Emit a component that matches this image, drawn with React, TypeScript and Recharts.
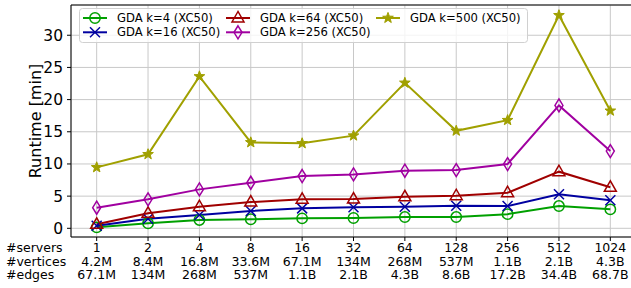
import React from 'react'
import { LineChart, Line, XAxis, YAxis, CartesianGrid, ReferenceLine } from 'recharts'

const FONT = '"DejaVu Sans", sans-serif'

// x-axis rows
const servers = ['1', '2', '4', '8', '16', '32', '64', '128', '256', '512', '1024']
const vertices = ['4.2M', '8.4M', '16.8M', '33.6M', '67.1M', '134M', '268M', '537M', '1.1B', '2.1B', '4.3B']
const edges = ['67.1M', '134M', '268M', '537M', '1.1B', '2.1B', '4.3B', '8.6B', '17.2B', '34.4B', '68.7B']
const rowNames = ['#servers', '#vertices', '#edges']

// runtimes [min]
const k4 = [0.15, 0.78, 1.3, 1.4, 1.55, 1.6, 1.75, 1.75, 2.2, 3.46, 2.95]
const k16 = [0.4, 1.5, 2.06, 2.7, 3.1, 3.26, 3.36, 3.5, 3.46, 5.28, 4.35]
const k64 = [0.62, 2.33, 3.36, 4.08, 4.5, 4.55, 4.9, 5.06, 5.53, 8.8, 6.37]
const k256 = [3.2, 4.5, 6.05, 7.08, 8.12, 8.38, 8.95, 9.05, 9.98, 19.1, 12.0]
const k500 = [9.47, 11.5, 23.6, 13.35, 13.2, 14.4, 22.6, 15.15, 16.8, 33.1, 18.26]

const yTicks = [0, 5, 10, 15, 20, 25, 30]

type Shape = 'circle' | 'x' | 'triangle' | 'thin_diamond' | 'star'

const series: { key: string; name: string; color: string; shape: Shape }[] = [
  { key: 'k4', name: 'GDA k=4 (XC50)', color: '#00a000', shape: 'circle' },
  { key: 'k16', name: 'GDA k=16 (XC50)', color: '#0000a0', shape: 'x' },
  { key: 'k64', name: 'GDA k=64 (XC50)', color: '#a00000', shape: 'triangle' },
  { key: 'k256', name: 'GDA k=256 (XC50)', color: '#a000a0', shape: 'thin_diamond' },
  { key: 'k500', name: 'GDA k=500 (XC50)', color: '#a0a000', shape: 'star' },
]

const data = servers.map((s, i) => ({
  i,
  k4: k4[i],
  k16: k16[i],
  k64: k64[i],
  k256: k256[i],
  k500: k500[i],
}))

function starPoints(cx: number, cy: number, ro: number, ri: number) {
  const pts: string[] = []
  for (let j = 0; j < 10; j++) {
    const r = j % 2 === 0 ? ro : ri
    const a = -Math.PI / 2 + (j * Math.PI) / 5
    pts.push(`${cx + r * Math.cos(a)},${cy + r * Math.sin(a)}`)
  }
  return pts.join(' ')
}

function Marker({ cx, cy, color, shape }: { cx: number; cy: number; color: string; shape: Shape }) {
  const sw = 1.5
  if (shape === 'circle') return <circle cx={cx} cy={cy} r={5.2} fill="none" stroke={color} strokeWidth={sw} />
  if (shape === 'x')
    return (
      <g stroke={color} strokeWidth={sw}>
        <line x1={cx - 5} y1={cy - 5} x2={cx + 5} y2={cy + 5} />
        <line x1={cx - 5} y1={cy + 5} x2={cx + 5} y2={cy - 5} />
      </g>
    )
  if (shape === 'triangle')
    return (
      <polygon
        points={`${cx},${cy - 6.5} ${cx - 6},${cy + 4} ${cx + 6},${cy + 4}`}
        fill="none"
        stroke={color}
        strokeWidth={sw}
      />
    )
  if (shape === 'thin_diamond')
    return (
      <polygon
        points={`${cx},${cy - 6.5} ${cx + 4},${cy} ${cx},${cy + 6.5} ${cx - 4},${cy}`}
        fill="none"
        stroke={color}
        strokeWidth={sw}
      />
    )
  return <polygon points={starPoints(cx, cy, 5.6, 2.3)} fill={color} stroke={color} strokeWidth={1} />
}

function XTick(props: any) {
  const { x, payload, index } = props
  const i = payload.value as number
  const rows = [servers[i], vertices[i], edges[i]]
  const base = 252
  return (
    <g>
      {rows.map((t, r) => (
        <text key={r} x={x} y={base + r * 13.7} textAnchor="middle" fontSize={12.5} fill="#000" fontFamily={FONT}>
          {t}
        </text>
      ))}
      {index === 0 &&
        rowNames.map((t, r) => (
          <text key={'h' + r} x={6} y={base + r * 13.7} textAnchor="start" fontSize={12.5} fill="#000" fontFamily={FONT}>
            {t}
          </text>
        ))}
    </g>
  )
}

function LegendBox() {
  const cols = [
    [series[0], series[1]],
    [series[2], series[3]],
    [series[4]],
  ]
  const colX = [4, 147, 297]
  return (
    <svg width={450} height={38} style={{ position: 'absolute', left: 79, top: 8 }}>
      <rect x={0.5} y={0.5} width={448} height={34} rx={3} fill="rgba(255,255,255,0.8)" stroke="#d0d0d0" />
      {cols.map((col, c) =>
        col.map((s, r) => {
          const y = 10 + r * 14.3
          const x0 = colX[c]
          return (
            <g key={s.key}>
              <line x1={x0} y1={y} x2={x0 + 24} y2={y} stroke={s.color} strokeWidth={2} />
              <Marker cx={x0 + 12} cy={y} color={s.color} shape={s.shape} />
              <text x={x0 + 34} y={y + 4} fontSize={11.6} fontFamily={FONT} fill="#000">
                {s.name}
              </text>
            </g>
          )
        })
      )}
    </svg>
  )
}

export default function App() {
  return (
    <div
      style={{
        position: 'fixed',
        left: 0,
        top: 0,
        width: 631,
        height: 288,
        overflow: 'hidden',
        background: '#fff',
        fontFamily: FONT,
      }}
    >
      <LineChart width={650} height={288} data={data} margin={{ top: 5, right: 14, left: 0, bottom: 0 }}>
        <CartesianGrid stroke="#c8c8c8" strokeWidth={1} />
        <XAxis
          type="number"
          dataKey="i"
          domain={[-0.5, 10.5]}
          ticks={servers.map((_, i) => i)}
          interval={0}
          height={51}
          tickSize={4}
          stroke="#000"
          tick={<XTick />}
        />
        <YAxis
          type="number"
          domain={[-1.35, 34.7]}
          ticks={yTicks}
          width={71}
          tickSize={4}
          tickMargin={4}
          stroke="#000"
          tick={{ fontSize: 15.5, fill: '#000', fontFamily: FONT }}
          label={{
            content: () => (
              <text
                x={40.5}
                y={121}
                transform="rotate(-90, 40.5, 121)"
                textAnchor="middle"
                fontSize={16}
                fontFamily={FONT}
                fill="#000"
              >
                Runtime [min]
              </text>
            ),
          }}
        />
        <ReferenceLine y={34.7} stroke="#000" strokeWidth={1} />
        {series.map((s) => (
          <Line
            key={s.key}
            dataKey={s.key}
            name={s.name}
            stroke={s.color}
            strokeWidth={2}
            isAnimationActive={false}
            dot={(p: any) => <Marker key={p.index} cx={p.cx} cy={p.cy} color={s.color} shape={s.shape} />}
            activeDot={false}
          />
        ))}
      </LineChart>
      <LegendBox />
    </div>
  )
}
